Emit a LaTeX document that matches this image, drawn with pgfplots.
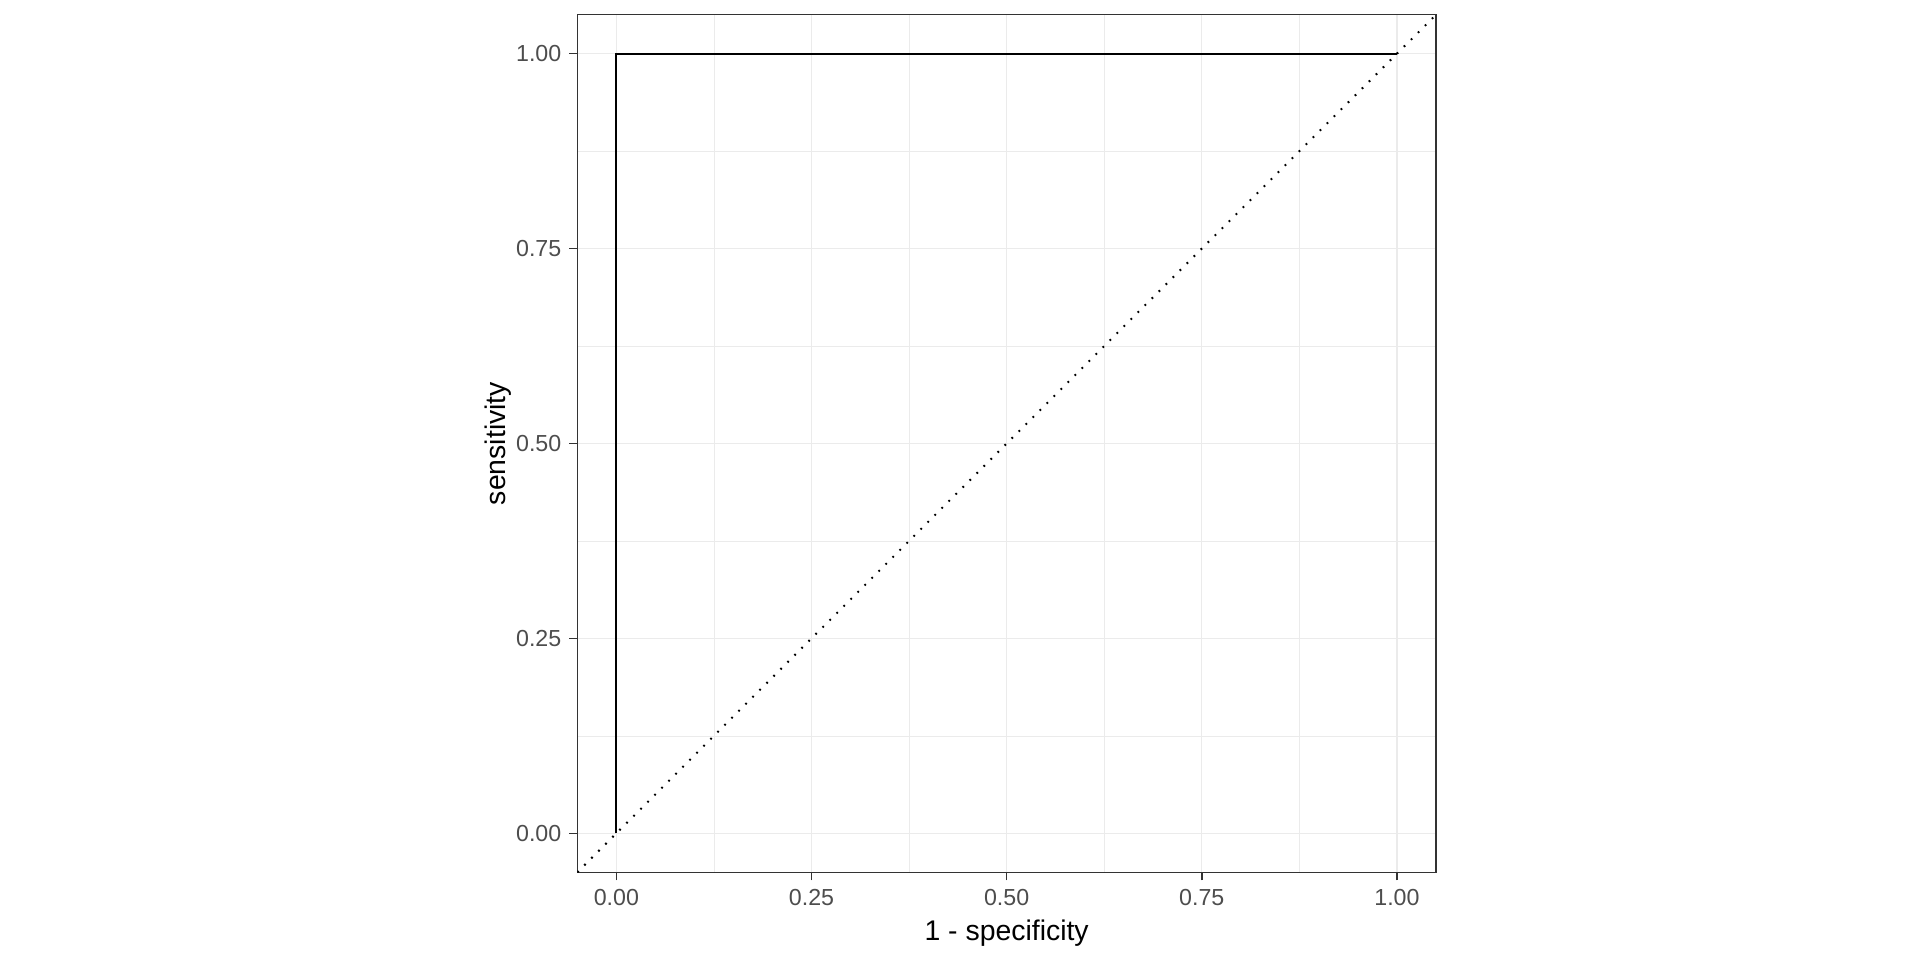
\documentclass[border=0pt]{standalone}
\usepackage{fontspec}
\setmainfont{Liberation Sans}
\usepackage{pgfplots}
\pgfplotsset{compat=1.18}
\definecolor{gridmaj}{HTML}{EBEBEB}
\definecolor{tickcol}{HTML}{333333}
\definecolor{labcol}{HTML}{4D4D4D}
\begin{document}
\begin{tikzpicture}
\path[use as bounding box] (-288.65bp,-43.85bp) rectangle (671.35bp,436.15bp);
\begin{axis}[
  at={(0,0)}, anchor=south west,
  scale only axis,
  width=429.35bp, height=428.8bp,
  xmin=-0.05, xmax=1.05, ymin=-0.05, ymax=1.05,
  xtick={0,0.25,0.5,0.75,1}, ytick={0,0.25,0.5,0.75,1},
  minor tick num=1,
  grid=both,
  major grid style={gridmaj, line width=0.6bp},
  minor grid style={gridmaj, line width=0.3bp},
  axis line style={tickcol, line width=0.7bp},
  tick align=outside, tick pos=left,
  major tick length=4bp, minor tick length=0pt,
  tick style={tickcol, line width=0.7bp},
  /pgf/number format/assume math mode=true,
  /pgf/number format/.cd, fixed, fixed zerofill, precision=2, /pgfplots/.cd,
  ticklabel style={font=\fontsize{11.6bp}{13bp}\selectfont, text=labcol},
  yticklabel style={inner sep=0pt, xshift=-3.8bp},
  xticklabel style={inner sep=0pt, yshift=-4.4bp},
  xlabel={1 - specificity}, ylabel={sensitivity},
  label style={font=\fontsize{14.2bp}{16bp}\selectfont, text=black},
  xlabel style={at={(axis description cs:0.5,-0.071)}, anchor=center},
  ylabel style={at={(axis description cs:-0.0925,0.5)}, anchor=center, rotate=0},
]
\addplot[black, line width=1bp, dash pattern=on 0.9bp off 4.05bp] coordinates {(-0.05,-0.05) (1.05,1.05)};
\addplot[black, line width=0.85bp] coordinates {(0,0) (0,1) (1,1)};
\end{axis}
\end{tikzpicture}
\end{document}
